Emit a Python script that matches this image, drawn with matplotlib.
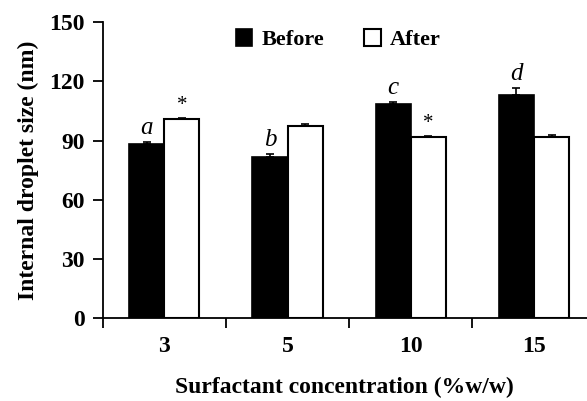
import numpy as np
import matplotlib.pyplot as plt

categories = ['3', '5', '10', '15']
before = [88.2, 81.8, 108.5, 113.3]
after = [100.8, 97.6, 91.6, 91.6]
before_err = [1.0, 1.6, 0.8, 3.5]
after_err = [0.8, 0.8, 0.6, 1.0]
before_marks = ['a', 'b', 'c', 'd']
after_marks = ['*', '', '*', '']

plt.rcParams['font.family'] = ['Liberation Serif', 'DejaVu Serif']

fig = plt.figure(figsize=(5.87, 4.01), dpi=100)
ax = fig.add_axes([0.175, 0.206, 0.825, 0.739])

x = np.arange(len(categories))
w = 0.285
ekw = dict(ecolor='black', elinewidth=1.2, capsize=3, capthick=1.2)
ax.bar(x - w / 2, before, w, color='black', edgecolor='black', linewidth=1.2,
       yerr=[np.zeros(4), before_err], error_kw=ekw, label='Before')
ax.bar(x + w / 2, after, w, color='white', edgecolor='black', linewidth=1.5,
       yerr=[np.zeros(4), after_err], error_kw=ekw, label='After')

for i in range(len(categories)):
    ax.text(x[i] - w / 2, before[i] + before_err[i] + 1.5, before_marks[i],
            ha='center', va='bottom', fontsize=18, style='italic')
    if after_marks[i]:
        ax.text(x[i] + w / 2, after[i] + after_err[i] + 1.5, after_marks[i],
                ha='center', va='bottom', fontsize=15)

ax.set_ylim(0, 150)
ax.set_yticks([0, 30, 60, 90, 120, 150])
ax.set_xlim(-0.5, 3.43)
ax.set_xticks(x)
ax.set_xticklabels(categories)
ax.set_xticks(np.arange(-0.5, 3.5, 1), minor=True)
ax.tick_params(axis='x', which='major', length=0, pad=13, labelsize=17)
ax.tick_params(axis='x', which='minor', length=7, width=1.3, direction='out')
ax.tick_params(axis='y', length=7, width=1.3, labelsize=17, pad=6)
for lab in ax.get_xticklabels() + ax.get_yticklabels():
    lab.set_fontweight('bold')

for s in ['top', 'right']:
    ax.spines[s].set_visible(False)
for s in ['left', 'bottom']:
    ax.spines[s].set_linewidth(1.3)

ax.set_xlabel('Surfactant concentration (%w/w)', fontsize=17, fontweight='bold', labelpad=14)
ax.set_ylabel('Internal droplet size (nm)', fontsize=17, fontweight='bold', labelpad=7)

leg = ax.legend(loc='center', bbox_to_anchor=(0.486, 0.94), ncol=2, frameon=False,
                prop={'size': 16, 'weight': 'bold'}, handlelength=0.75, handleheight=0.75,
                columnspacing=1.8, handletextpad=0.4)

fig.savefig('out.png', dpi=100)
